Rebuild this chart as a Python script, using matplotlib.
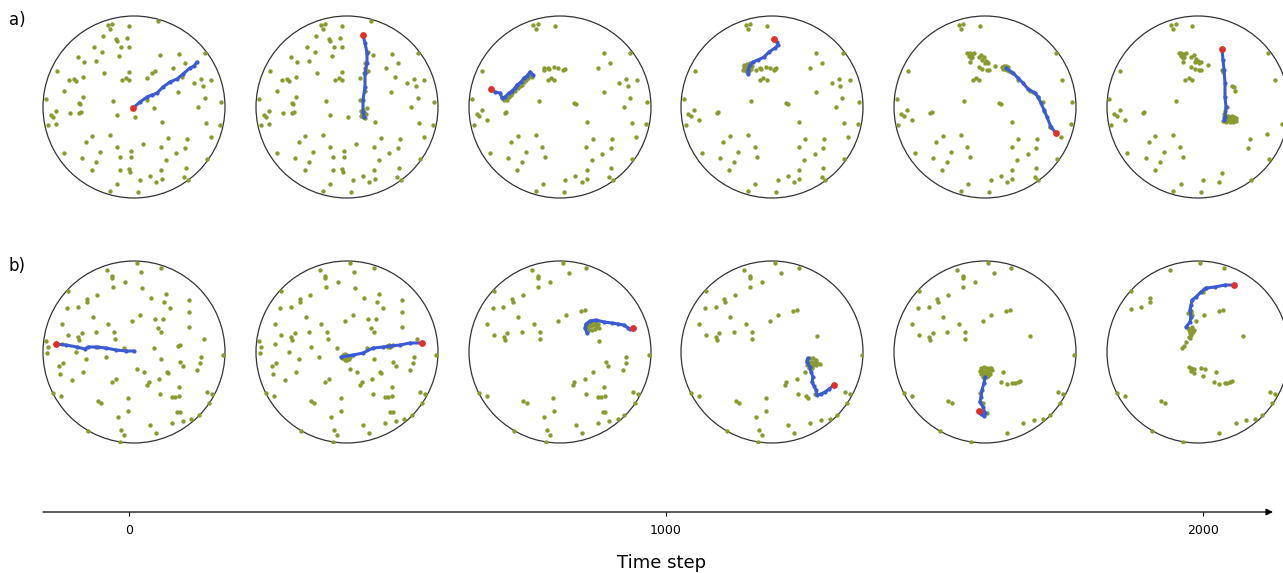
import matplotlib
matplotlib.use("Agg")
import matplotlib.pyplot as plt
from matplotlib.patches import Circle

# ---------------- data (arena units: circle centre 0,0, radius 91) ----------------
ARENA_R = 91

A1_FOOD = [(-26,82),(-22,83),(-24,78),(-5,81),(24,86),(-31,71),(-18,68),(-17,66),(-7,69),
    (-40,60),(-13,60),(-5,60),(-32,55),(-15,51),(26,52),(45,53),(71,54),(-56,50),(-38,46),
    (-50,45),(51,44),(-77,36),(-30,34),(-5,35),(18,34),(21,36),(39,39),(48,30),(-65,27),
    (-60,28),(-58,26),(-51,30),(-12,27),(-8,29),(-5,27),(13,29),(60,24),(67,28),(77,27),
    (69,21),(-70,16),(-51,10),(-55,4),(-54,3),(44,15),(71,9),(-88,8),(-21,6),(13,7),(87,5),
    (-78,-4),(-64,-6),(-55,-6),(-53,-5),(20,-1),(64,0),(-83,-8),(-81,-10),(-17,-8),(1,-10),
    (-86,-18),(-78,-17),(28,-15),(72,-16),(86,-18),(-24,-28),(-42,-29),(34,-31),(53,-32),
    (77,-30),(-48,-35),(9,-37),(-17,-40),(27,-40),(51,-41),(-70,-46),(-34,-45),(-3,-44),
    (42,-46),(-52,-51),(-14,-50),(-3,-50),(32,-53),(73,-52),(-38,-55),(-42,-63),(-14,-63),
    (-5,-62),(-4,-65),(27,-63),(52,-61),(16,-69),(28,-72),(6,-73),(22,-75),(50,-70),
    (54,-73),(-17,-77),(-24,-84),(4,-85)]

A2_EXTRA = [(14,-4),(16,-3),(17,-5),(15,-7),(17,-8),(16,-10),(18,-11),(14,-9),(19,-7),
    (21,55),(18,44),(18,39),(17,34),(18,16)]

A3_FOOD = [(-27,82),(-22,83),(-24,78),(-5,81),(44,54),(70,54),(50,44),(-78,36),(38,39),
    (-16,37),(-16,39),(-12,39),(-11,38),(-6,40),(-2,39),(3,37),(5,38),(-12,27),(-9,29),
    (-6,27),(66,28),(77,27),(59,24),(68,21),(44,15),(70,9),(64,0),(87,5),(-88,8),(-21,6),
    (14,4),(16,3),(-78,-3),(-83,-7),(-81,-9),(-73,-13),(-55,-6),(-54,-5),(-86,-18),(27,-15),
    (72,-16),(86,-17),(-24,-28),(-42,-29),(33,-32),(52,-32),(76,-30),(-49,-35),(-18,-40),
    (26,-40),(51,-41),(-70,-46),(-34,-45),(42,-47),(-52,-51),(-15,-50),(32,-53),(72,-52),
    (-38,-55),(-43,-63),(27,-63),(51,-61),(15,-69),(5,-73),(27,-72),(22,-75),(49,-70),
    (53,-73),(-17,-77),(-24,-84),(4,-85),
    (-56,7),(-54,9),(-51,10),(-48,14),(-45,16),(-42,19),(-38,22),(-36,25),(-32,29),
    (-30,31),(-28,30),(-53,7),(-49,12),(-40,21),(-34,27),(-29,33)]

A4_FOOD = [(-26,82),(-22,83),(-24,78),(-5,81),(44,54),(71,54),(50,44),(-77,36),(38,39),
    (-16,37),(-12,39),(-11,38),(-6,40),(-2,39),(3,38),(4,39),(2,37),(-12,27),(-9,29),
    (-5,27),(67,28),(78,27),(60,24),(68,21),(44,15),(70,9),(64,0),(87,5),(-88,8),(-21,6),
    (14,4),(16,3),(-78,-3),(-84,-7),(-81,-9),(-73,-13),(-55,-6),(-54,-5),(-86,-18),(27,-15),
    (72,-16),(86,-17),(-24,-28),(-42,-29),(33,-32),(52,-32),(76,-30),(-49,-35),(-17,-40),
    (27,-40),(51,-41),(-70,-46),(-34,-45),(43,-47),(-52,-51),(-15,-50),(32,-53),(72,-52),
    (-38,-55),(-43,-63),(27,-63),(51,-61),(16,-69),(6,-73),(27,-72),(22,-75),(50,-70),
    (53,-73),(-17,-77),(-24,-84),(4,-85),
    (-28,42),(-25,43),(-22,41),(-27,38),(-24,39),(-21,38),(-26,36),(-23,36),(-28,40),
    (-22,44),(-25,41),(-29,37),(-20,41)]

A5_FOOD = [(-26,82),(-22,83),(-24,78),(-5,81),(71,54),(-18,54),(-15,54),(-13,53),(-11,54),
    (-16,51),(-14,49),(-13,50),(-15,45),(-6,50),(-4,52),(-1,50),(-3,47),(1,46),(0,44),
    (2,45),(3,44),(-6,40),(-3,38),(2,37),(4,37),(10,41),(-77,36),(77,27),(-12,27),(-9,29),
    (-6,27),(-88,8),(-21,6),(14,4),(16,3),(87,5),(-78,-3),(-84,-7),(-81,-9),(-73,-13),
    (-55,-6),(-53,-5),(-87,-18),(27,-15),(86,-17),(65,-19),(-24,-28),(-42,-29),(33,-32),
    (52,-32),(76,-30),(-49,-35),(-18,-40),(27,-40),(51,-41),(-70,-46),(-34,-45),(43,-47),
    (-52,-51),(-15,-50),(32,-53),(72,-52),(-38,-55),(-43,-63),(27,-63),(51,-61),(16,-69),
    (6,-73),(27,-72),(22,-75),(50,-70),(53,-73),(-17,-77),(-24,-84),(4,-85),
    (17,40),(19,41),(21,41),(23,40),(18,38),(20,38),(22,37),(24,36),(26,35),(20,39),
    (33,27),(45,16),(48,15),(53,10),(58,5),(59,-4),(65,-20)]

A6_FOOD = [(-27,82),(-22,83),(-25,78),(-6,81),(70,54),(-19,54),(-17,54),(-14,53),(-12,54),
    (-17,51),(-15,49),(-14,50),(-15,45),(-7,50),(-4,52),(-2,48),(-3,45),(0,46),(1,44),
    (3,45),(10,42),(-7,40),(-3,38),(1,37),(3,37),(-78,36),(77,27),(-13,27),(-9,29),(-6,27),
    (24,37),(25,35),(34,21),(36,20),(37,16),(-89,8),(-22,6),(29,0),(-78,-3),(-84,-7),
    (-81,-9),(-73,-13),(-55,-6),(-54,-5),(-87,-18),(-25,-28),(-43,-29),(52,-32),(69,-27),
    (-49,-35),(-18,-40),(50,-41),(-71,-46),(-34,-45),(-52,-51),(-15,-50),(71,-52),(-38,-55),
    (-43,-63),(24,-66),(5,-73),(21,-75),(53,-73),(-17,-77),(-25,-84),(3,-85),(84,-17),
    (26,-10),(28,-9),(30,-9),(32,-10),(34,-9),(36,-10),(38,-11),(27,-12),(30,-13),(33,-13),
    (36,-13),(28,-15),(32,-15),(35,-15),(30,-11),(34,-11),(25,-14),(38,-14),(27,-4),(26,-7)]

B1_FOOD = [(3,89),(-27,82),(-22,76),(-22,74),(-9,70),(7,80),(27,84),(-66,61),(-37,57),
    (-47,53),(-47,50),(-21,65),(8,64),(32,58),(17,54),(30,50),(55,52),(-67,44),(-56,45),
    (36,44),(55,40),(-41,35),(6,37),(-2,31),(21,33),(29,33),(-72,28),(-26,28),(24,24),
    (27,20),(-20,20),(55,25),(-66,17),(-52,19),(-38,20),(-56,15),(-55,12),(-19,13),(70,13),
    (-88,11),(-86,5),(-87,-1),(-72,8),(-36,5),(-10,4),(20,4),(44,6),(46,7),(-58,0),(-28,-5),
    (-48,-7),(27,-7),(67,-5),(46,-10),(66,-11),(49,-14),(89,-3),(-75,-14),(-71,-11),(3,-17),
    (10,-20),(33,-20),(34,-21),(63,-18),(-74,-22),(-51,-20),(-62,-28),(-18,-27),(-22,-30),
    (25,-27),(15,-30),(13,-33),(-81,-41),(-73,-44),(45,-35),(26,-42),(38,-45),(41,-45),
    (45,-44),(73,-40),(78,-42),(-36,-49),(-33,-51),(-6,-46),(75,-51),(-16,-65),(-6,-59),
    (43,-60),(46,-60),(65,-63),(49,-69),(57,-67),(38,-71),(16,-73),(-13,-78),(-10,-83),
    (22,-81),(-46,-79),(-14,-90)]

B2_EXTRA = [(-4,-3),(-2,-2),(0,-3),(2,-4),(-3,-5),(-1,-6),(1,-6),(-2,-8),(0,-8),(2,-7),
    (-5,-6),(3,-5),(40,6),(42,7),(44,6),(41,5),(43,5)]

B3_FOOD = [(3,89),(-28,82),(-22,76),(-22,74),(-10,70),(9,79),(26,84),(-66,61),(-37,57),
    (-48,53),(-47,50),(-22,65),(-67,44),(-57,45),(21,41),(25,42),(-42,35),(6,37),(-2,31),
    (-73,28),(-26,28),(-66,17),(-53,19),(-38,20),(-56,15),(-55,12),(-20,20),(-20,13),
    (39,11),(89,-3),(66,-5),(46,-10),(66,-11),(48,-14),(63,-18),(33,-20),(25,-27),(14,-30),
    (13,-33),(-81,-41),(-73,-44),(44,-35),(26,-42),(38,-45),(41,-45),(45,-44),(73,-40),
    (78,-42),(-37,-49),(-33,-51),(-7,-46),(75,-51),(-16,-65),(-6,-59),(43,-60),(45,-60),
    (64,-63),(49,-69),(58,-67),(38,-71),(16,-73),(-13,-78),(-10,-83),(22,-81),(-46,-79),
    (-14,-90),
    (27,28),(30,30),(33,31),(36,30),(38,28),(28,25),(31,26),(34,27),(37,25),(39,24),
    (29,22),(32,22),(35,23),(30,28),(34,29),(36,27)]

B4_FOOD = [(3,89),(-28,82),(-22,76),(-22,74),(-10,70),(9,79),(27,84),(-66,61),(-37,57),
    (-48,53),(-47,50),(-22,65),(-67,44),(-56,45),(21,41),(25,42),(-42,35),(6,37),(-2,31),
    (-73,28),(-26,28),(-66,17),(-53,19),(-38,20),(-56,15),(-55,12),(-20,20),(-20,13),
    (45,16),(90,-3),(48,-12),(33,-20),(25,-27),(14,-30),(13,-33),(-81,-41),(-73,-44),
    (26,-42),(34,-44),(36,-46),(43,-42),(73,-40),(78,-42),(-36,-49),(-33,-51),(-6,-46),
    (75,-51),(-16,-65),(-6,-59),(65,-63),(58,-67),(49,-68),(38,-71),(16,-73),(-13,-78),
    (-10,-83),(22,-81),(-45,-79),(-14,-90),
    (35,-8),(38,-6),(41,-6),(44,-8),(36,-11),(39,-10),(42,-10),(45,-11),(35,-13),(38,-14),
    (41,-13),(44,-13),(37,-16),(40,-16)]

B5_FOOD = [(3,89),(-28,82),(-22,76),(-22,74),(-10,70),(9,79),(26,84),(-66,61),(-37,57),
    (-48,53),(-47,50),(-22,65),(-67,44),(-56,45),(21,41),(25,42),(-42,35),(6,37),(-2,31),
    (-73,28),(-26,28),(-66,17),(-52,19),(-38,20),(-56,15),(-55,12),(-20,20),(-20,13),
    (45,16),(89,-3),(6,-16),(18,-20),(16,-30),(22,-32),(27,-31),(30,-31),(33,-30),(35,-29),
    (-81,-41),(-73,-44),(-37,-49),(-33,-51),(-5,-41),(73,-40),(78,-42),(75,-51),(65,-63),
    (58,-67),(49,-68),(38,-71),(22,-81),(-45,-79),(-14,-90),(-2,-51),(2,-61),(-4,-60),
    (-4,-16),(-1,-15),(2,-16),(5,-16),(-5,-19),(-2,-19),(1,-19),(4,-19),(7,-18),(-4,-22),
    (-1,-22),(2,-22),(5,-22),(-2,-25),(1,-25),(3,-24)]

B6_FOOD = [(2,89),(-28,82),(26,84),(-67,61),(-48,54),(-48,50),(-57,45),(-67,43),(21,41),
    (25,42),(6,37),(-2,31),(45,16),(6,63),(5,60),(8,64),(-7,40),(-10,39),(-6,37),(-7,41),
    (-10,24),(-7,23),(-5,20),(-7,17),(-8,14),(-12,10),(-14,6),(-16,4),(-9,22),(-4,22),
    (-8,19),(-6,25),(-9,15),
    (-9,-15),(-7,-16),(-4,-17),(-7,-19),(-4,-21),(3,-16),(7,-17),(5,-24),(18,-20),(16,-30),
    (21,-32),(27,-31),(29,-31),(32,-30),(34,-29),(-81,-41),(-73,-44),(-37,-49),(-33,-51),
    (72,-40),(77,-42),(74,-51),(64,-63),(57,-67),(48,-68),(38,-71),(21,-81),(-46,-79),
    (-15,-90)]

A_FOOD = [A1_FOOD, A1_FOOD + A2_EXTRA, A3_FOOD, A4_FOOD, A5_FOOD, A6_FOOD]
B_FOOD = [B1_FOOD, B1_FOOD + B2_EXTRA, B3_FOOD, B4_FOOD, B5_FOOD, B6_FOOD]

A_PATHS = [
    [(-1,-1),(6,5),(13,10),(18,12),(23,14),(29,20),(36,25),(43,28),(49,33),(56,39),(60,41),(63,45)],
    [(16,72),(18,64),(20,54),(20,44),(18,34),(18,20),(16,7),(16,-5),(17,-10)],
    [(-69,18),(-65,15),(-60,14),(-58,9),(-55,10),(-51,14),(-48,16),(-45,19),(-43,22),
     (-39,25),(-36,29),(-33,31),(-30,35),(-27,32)],
    [(2,68),(5,65),(6,62),(3,59),(-3,55),(-8,50),(-14,47),(-19,45),(-22,42),(-24,37),(-24,33)],
    [(21,39),(28,34),(33,29),(38,24),(43,18),(50,14),(53,10),(56,4),(59,-3),(62,-10),(66,-20),(71,-26)],
    [(24,58),(25,47),(26,37),(27,24),(27,10),(28,0),(27,-10),(26,-13)],
]
A_AGENT = [(-1,-1),(16,72),(-69,18),(2,68),(71,-26),(24,58)]

B_PATHS = [
    [(-78,8),(-68,7),(-57,5),(-49,3),(-46,5),(-38,5),(-28,4),(-18,2),(-8,1),(0,1)],
    [(-6,-5),(6,-3),(16,-1),(26,4),(36,5),(43,6),(53,7),(63,9),(75,9)],
    [(27,19),(25,24),(26,28),(30,31),(36,32),(44,30),(52,29),(58,28),(64,27),(68,24),(70,23),(73,24)],
    [(36,-6),(35,-10),(38,-15),(39,-20),(41,-25),(40,-30),(42,-34),(44,-38),(45,-43),(49,-42),
     (53,-40),(57,-37),(62,-33)],
    [(0,-25),(-1,-31),(-3,-38),(-4,-45),(-5,-50),(-2,-55),(0,-61),(-1,-64),(-4,-62),(-6,-59)],
    [(36,67),(27,67),(17,65),(8,64),(3,60),(-2,55),(-6,52),(-7,47),(-8,42),(-7,35),(-8,30),(-12,25)],
]
B_AGENT = [(-78,8),(75,9),(73,24),(62,-33),(-6,-59),(36,67)]

TIME_TICKS = [0, 1000, 2000]
TIME_LABEL = "Time step"
ROW_LABELS = ["a)", "b)"]

# ---------------- styling / layout ----------------
W, H = 1283, 573
FOOD_C = "#8a9a2f"
PATH_C = "#3a5ad6"
AGENT_C = "#e0302a"
CENTERS_X = [134, 347, 560, 772, 985, 1198]
CENTERS_Y = [107, 352]

fig = plt.figure(figsize=(W / 100, H / 100), dpi=100)


def draw_panel(cx, cy, food, path, agent):
    ax = fig.add_axes([(cx - ARENA_R) / W, (H - cy - ARENA_R) / H, 2 * ARENA_R / W, 2 * ARENA_R / H])
    ax.set_xlim(-ARENA_R, ARENA_R)
    ax.set_ylim(-ARENA_R, ARENA_R)
    ax.set_aspect("equal")
    ax.axis("off")
    ax.add_patch(Circle((0, 0), ARENA_R, fill=False, edgecolor="#333333", lw=0.9, clip_on=False))
    fx = [p[0] for p in food]
    fy = [p[1] for p in food]
    ax.scatter(fx, fy, s=10, color=FOOD_C, linewidths=0, zorder=2)
    px = [p[0] for p in path]
    py = [p[1] for p in path]
    ax.plot(px, py, color=PATH_C, lw=2.2, marker="o", ms=2.0, zorder=3, solid_capstyle="round")
    ax.scatter([agent[0]], [agent[1]], s=24, color=AGENT_C, linewidths=0, zorder=4)


for i in range(6):
    draw_panel(CENTERS_X[i], CENTERS_Y[0], A_FOOD[i], A_PATHS[i], A_AGENT[i])
    draw_panel(CENTERS_X[i], CENTERS_Y[1], B_FOOD[i], B_PATHS[i], B_AGENT[i])

fig.text(9 / W, 1 - 20 / H, ROW_LABELS[0], fontsize=12, va="center", ha="left")
fig.text(9 / W, 1 - 266 / H, ROW_LABELS[1], fontsize=12, va="center", ha="left")

# ---------------- time axis ----------------
px_per_step = (1205 - 131) / 2000.0
x0_px = 128.7
y_line = H - 512
tax = fig.add_axes([0, (y_line - 10) / H, 1, 20 / H])
tax.set_xlim(-x0_px / px_per_step, (W - x0_px) / px_per_step)
tax.set_ylim(-1, 1)
tax.patch.set_alpha(0)
for s in ["top", "left", "right"]:
    tax.spines[s].set_visible(False)
tax.spines["bottom"].set_position(("data", 0))
tax.spines["bottom"].set_visible(False)
tax.set_yticks([])
tax.set_xticks(TIME_TICKS)
tax.set_xticklabels([str(t) for t in TIME_TICKS], fontsize=9)
tax.tick_params(axis="x", direction="out", length=3, width=0.8, pad=6, colors="black")
x_start = (43 - x0_px) / px_per_step
x_end = (1273 - x0_px) / px_per_step
tax.annotate("", xy=(x_end, 0), xytext=(x_start, 0),
             arrowprops=dict(arrowstyle="-|>", color="black", lw=0.9, mutation_scale=10,
                             shrinkA=0, shrinkB=0))
fig.text(662 / W, (H - 563) / H, TIME_LABEL, fontsize=13, ha="center", va="center")

fig.savefig("out.png", dpi=100)
